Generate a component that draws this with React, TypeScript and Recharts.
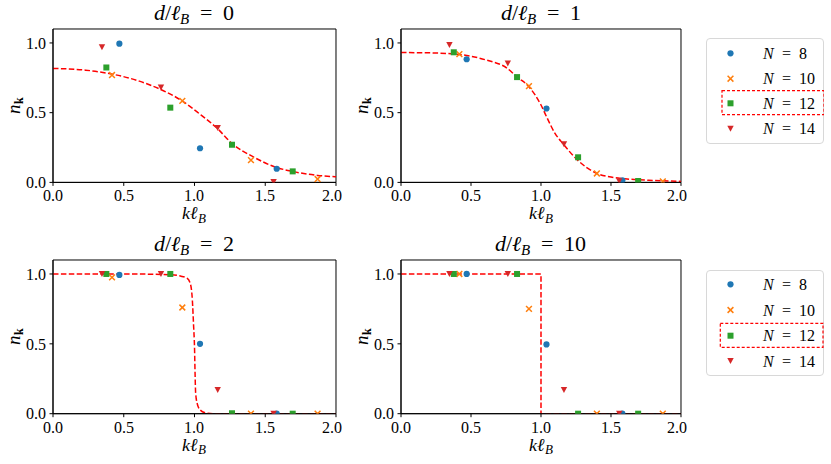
import { ComposedChart, Scatter, Line, XAxis, YAxis, ReferenceArea } from 'recharts';

// k positions of the data points for each system size
const kN8 = [0.469, 1.039, 1.581];
const kN10 = [0.417, 0.914, 1.399, 1.87];
const kN12 = [0.377, 0.829, 1.265, 1.694];
const kN14 = [0.346, 0.763, 1.164, 1.559];

// d/lB = 0
const d0N8 = [0.995, 0.245, 0.098];
const d0N10 = [0.77, 0.585, 0.16, 0.024];
const d0N12 = [0.824, 0.536, 0.27, 0.079];
const d0N14 = [0.969, 0.681, 0.39, 0.003];
const d0CurveK = [0, 0.23, 0.42, 0.61, 0.76, 0.91, 1.03, 1.16, 1.27, 1.41, 1.58, 1.69, 1.87, 2.0];
const d0CurveN = [0.817, 0.805, 0.776, 0.726, 0.667, 0.586, 0.496, 0.388, 0.274, 0.186, 0.107, 0.079, 0.05, 0.04];

// d/lB = 1
const d1N8 = [0.883, 0.53, 0.015];
const d1N10 = [0.92, 0.69, 0.064, 0.007];
const d1N12 = [0.933, 0.755, 0.18, 0.01];
const d1N14 = [0.986, 0.853, 0.274, 0.008];
const d1CurveK = [0, 0.2, 0.4, 0.6, 0.76, 0.83, 0.91, 1.0, 1.04, 1.1, 1.16, 1.26, 1.4, 1.5, 1.6, 1.8, 2.0];
const d1CurveN = [0.931, 0.929, 0.919, 0.88, 0.817, 0.755, 0.69, 0.555, 0.47, 0.352, 0.274, 0.161, 0.064, 0.038, 0.026, 0.014, 0.007];

// d/lB = 2
const d2N8 = [0.993, 0.5, 0.0];
const d2N10 = [0.976, 0.76, 0.0, 0.0];
const d2N12 = [1.0, 1.0, 0.003, 0.0];
const d2N14 = [1.0, 1.0, 0.169, 0.0];
const d2CurveK = [0, 0.5, 0.83, 0.9, 0.947, 0.97, 0.985, 0.994, 1.0, 1.004, 1.008, 1.018, 1.04, 1.076, 1.13, 2.0];
const d2CurveN = [1.0, 1.0, 0.995, 0.985, 0.97, 0.933, 0.81, 0.62, 0.48, 0.29, 0.15, 0.077, 0.027, 0.007, 0.0, 0.0];

// d/lB = 10
const d10N8 = [1.0, 0.496, 0.0];
const d10N10 = [1.0, 0.75, 0.0, 0.0];
const d10N12 = [1.0, 1.0, 0.0, 0.0];
const d10N14 = [1.0, 1.0, 0.17, 0.0];
const d10CurveK = [0, 1.0, 1.0, 2.0];
const d10CurveN = [1.0, 1.0, 0.0, 0.0];

const xTicks = [0, 0.5, 1, 1.5, 2];
const yTicks = [0, 0.5, 1];
const sizeLabels = ['8', '10', '12', '14'];

const FONT = "LibSerif, 'Liberation Serif', 'DejaVu Serif', serif";
const fontFaces = `
@font-face { font-family: LibSerif; font-style: normal; font-weight: 400; src: local('Liberation Serif'), local('LiberationSerif'), local('LiberationSerif-Regular'); }
@font-face { font-family: LibSerif; font-style: italic; font-weight: 400; src: local('Liberation Serif Italic'), local('LiberationSerif-Italic'); }
@font-face { font-family: LibSerif; font-style: normal; font-weight: 700; src: local('Liberation Serif Bold'), local('LiberationSerif-Bold'); }
`;

const BLUE = '#1f77b4';
const ORANGE = '#ff7f0e';
const GREEN = '#2ca02c';
const RED = '#d62728';

const toPoints = (ks: number[], ns: number[]) => ks.map((k, i) => ({ k, n: ns[i] }));

const CircleMark = ({ cx, cy }: any) => <circle cx={cx} cy={cy} r={3.1} fill={BLUE} />;
const CrossMark = ({ cx, cy }: any) => (
	<path
		d={`M${cx - 2.9},${cy - 2.9}L${cx + 2.9},${cy + 2.9}M${cx - 2.9},${cy + 2.9}L${cx + 2.9},${cy - 2.9}`}
		stroke={ORANGE}
		strokeWidth={1.5}
		fill='none'
	/>
);
const SquareMark = ({ cx, cy }: any) => <rect x={cx - 3} y={cy - 3} width={6} height={6} fill={GREEN} />;
const TriangleMark = ({ cx, cy }: any) => (
	<path d={`M${cx - 3.2},${cy - 3}L${cx + 3.2},${cy - 3}L${cx},${cy + 3}Z`} fill={RED} />
);

const markers = [CircleMark, CrossMark, SquareMark, TriangleMark];

type PanelProps = {
	px: number;
	py: number;
	pw: number;
	ph: number;
	title: string;
	series: number[][];
	curveK: number[];
	curveN: number[];
	curveType: 'monotone' | 'linear';
};

const YW = 52;
const TOP = 30;
const XH = 45;
const RIGHT = 6;

const tickStyle = { fill: '#000', fontSize: 16, fontFamily: FONT, style: { fontFamily: FONT } };

const Panel = ({ px, py, pw, ph, title, series, curveK, curveN, curveType }: PanelProps) => {
	const kLists = [kN8, kN10, kN12, kN14];
	return (
		<div style={{ position: 'absolute', left: px - YW, top: py - TOP, fontFamily: FONT }}>
			<ComposedChart
				width={YW + pw + RIGHT}
				height={TOP + ph + XH}
				margin={{ top: TOP, right: RIGHT, bottom: 0, left: 0 }}
			>
				<XAxis
					dataKey='k'
					type='number'
					domain={[0, 2]}
					ticks={xTicks}
					allowDataOverflow
					height={XH}
					tickSize={3.5}
					tickMargin={4}
					tickFormatter={(v: number) => v.toFixed(1)}
					stroke='#000'
					tick={tickStyle}
					label={({ viewBox }: any) => (
						<text
							x={viewBox.x + viewBox.width / 2}
							y={viewBox.y + 37}
							textAnchor='middle'
							style={{ fontFamily: FONT }}
							fontSize={18}
							fill='#000'
						>
							<tspan fontStyle='italic'>kℓ</tspan>
							<tspan fontStyle='italic' fontSize={13} dy={3.5}>
								B
							</tspan>
						</text>
					)}
				/>
				<YAxis
					dataKey='n'
					type='number'
					domain={[0, 1.1]}
					ticks={yTicks}
					allowDataOverflow
					width={YW}
					tickSize={3.5}
					tickMargin={3}
					tickFormatter={(v: number) => v.toFixed(1)}
					stroke='#000'
					tick={tickStyle}
					label={({ viewBox }: any) => {
						const cx = viewBox.x + viewBox.width - 33;
						const cy = viewBox.y + viewBox.height / 2;
						return (
							<text
								x={cx}
								y={cy}
								transform={`rotate(-90, ${cx}, ${cy})`}
								textAnchor='middle'
								style={{ fontFamily: FONT }}
								fontSize={19}
								fill='#000'
							>
								<tspan fontStyle='italic'>n</tspan>
								<tspan fontWeight='bold' fontSize={12} dy={3}>
									k
								</tspan>
							</text>
						);
					}}
				/>
				<ReferenceArea
					x1={0}
					x2={2}
					y1={0}
					y2={1.1}
					fill='none'
					stroke='#000'
					strokeWidth={1}
					label={({ viewBox }: any) => (
						<text
							x={viewBox.x + viewBox.width / 2}
							y={viewBox.y - 8.5}
							textAnchor='middle'
							style={{ fontFamily: FONT }}
							fontSize={22}
							fill='#000'
						>
							<tspan fontStyle='italic'>d</tspan>
							<tspan>/</tspan>
							<tspan fontStyle='italic'>ℓ</tspan>
							<tspan fontStyle='italic' fontSize={15} dy={4}>
								B
							</tspan>
							<tspan dy={-4}>{'\u2002=\u2002' + title}</tspan>
						</text>
					)}
				/>
				{series.map((vals, i) => (
					<Scatter
						key={sizeLabels[i]}
						name={'N = ' + sizeLabels[i]}
						data={toPoints(kLists[i], vals)}
						shape={markers[i]}
						isAnimationActive={false}
					/>
				))}
				<Line
					data={toPoints(curveK, curveN)}
					dataKey='n'
					type={curveType}
					stroke='#ff0000'
					strokeWidth={1.5}
					strokeDasharray='5.5 2.4'
					dot={false}
					activeDot={false}
					isAnimationActive={false}
				/>
			</ComposedChart>
		</div>
	);
};

type LegendProps = { left: number; top: number; rows: number[]; boxTop: number; boxLeft: number; boxRight: number };

const SizeLegend = ({ left, top, rows, boxTop, boxLeft, boxRight }: LegendProps) => (
	<div
		style={{
			position: 'absolute',
			left,
			top,
			width: 118,
			height: 106,
			border: '1px solid #d8d8d8',
			borderRadius: 4,
			boxSizing: 'border-box',
			background: '#fff',
		}}
	>
		<svg width={118} height={106} style={{ position: 'absolute', left: -1, top: -1 }}>
			{sizeLabels.map((s, i) => {
				const Mark = markers[i];
				return (
					<g key={s}>
						<Mark cx={24.5} cy={rows[i]} />
						<text x={57} y={rows[i] + 5.5} style={{ fontFamily: FONT }} fontSize={16} fill='#000'>
							<tspan fontStyle='italic'>N</tspan>
							{'\u2002=\u2002' + s}
						</text>
					</g>
				);
			})}
			<rect
				x={boxLeft}
				y={boxTop}
				width={boxRight - boxLeft}
				height={24}
				fill='none'
				stroke='#ff0000'
				strokeWidth={1.2}
				strokeDasharray='3 2'
			/>
		</svg>
	</div>
);

export default function App() {
	return (
		<div style={{ position: 'absolute', left: 0, top: 0, width: 831, height: 464, background: '#fff' }}>
			<style>{fontFaces}</style>
			<Panel
				px={52.7}
				py={29.3}
				pw={283}
				ph={153.4}
				title='0'
				series={[d0N8, d0N10, d0N12, d0N14]}
				curveK={d0CurveK}
				curveN={d0CurveN}
				curveType='monotone'
			/>
			<Panel
				px={400.7}
				py={29.3}
				pw={280}
				ph={153.4}
				title='1'
				series={[d1N8, d1N10, d1N12, d1N14]}
				curveK={d1CurveK}
				curveN={d1CurveN}
				curveType='monotone'
			/>
			<Panel
				px={52.7}
				py={260}
				pw={283}
				ph={153.7}
				title='2'
				series={[d2N8, d2N10, d2N12, d2N14]}
				curveK={d2CurveK}
				curveN={d2CurveN}
				curveType='monotone'
			/>
			<Panel
				px={400.7}
				py={260}
				pw={280}
				ph={153.7}
				title='10'
				series={[d10N8, d10N10, d10N12, d10N14]}
				curveK={d10CurveK}
				curveN={d10CurveN}
				curveType='linear'
			/>
			<SizeLegend left={705.7} top={38} rows={[15.3, 40.7, 65.3, 90.7]} boxTop={52.7} boxLeft={16} boxRight={118} />
			<SizeLegend left={705.7} top={270} rows={[14.3, 40, 65.7, 91]} boxTop={53.3} boxLeft={14.3} boxRight={117} />
		</div>
	);
}
